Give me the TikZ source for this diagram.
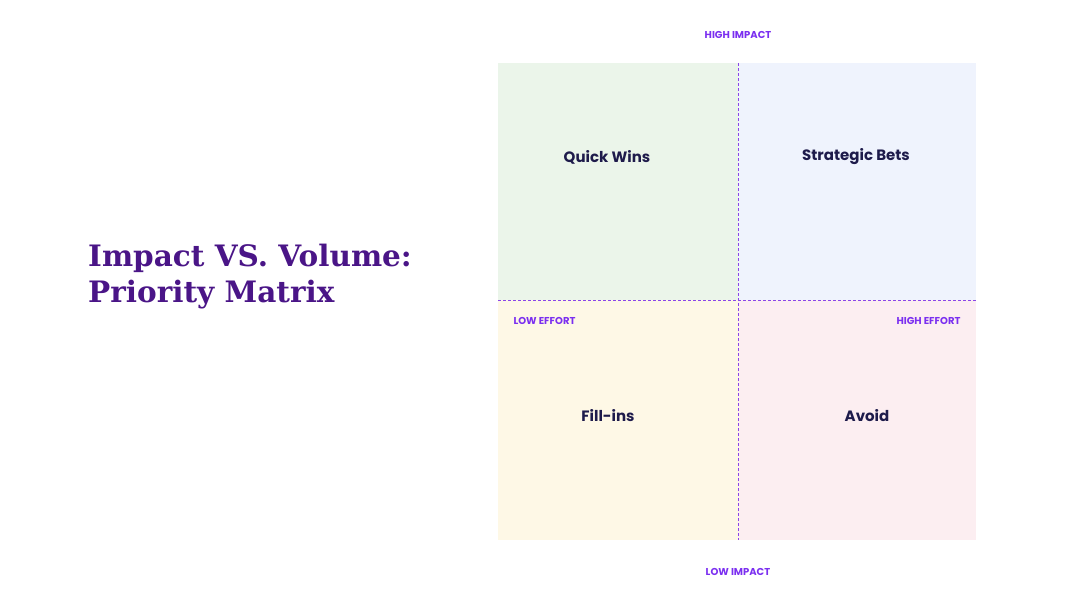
\documentclass[tikz,border=0pt]{standalone}
\usepackage{fontspec}
\setmainfont{Poppins}
\newfontfamily\titlefont{DejaVu Serif}
\definecolor{qgreen}{HTML}{EBF5EA}
\definecolor{qblue}{HTML}{EFF3FD}
\definecolor{qyellow}{HTML}{FEF8E6}
\definecolor{qpink}{HTML}{FCEEF1}
\definecolor{axis}{HTML}{8B45E8}
\definecolor{lab}{HTML}{7B2FF0}
\definecolor{ink}{HTML}{1E1B4B}
\definecolor{ttl}{HTML}{4A1587}
\begin{document}
\begin{tikzpicture}[x=1pt,y=-1pt,
  quad/.style={font=\fontsize{15}{18}\selectfont\bfseries, text=ink},
  lbl/.style={font=\fontsize{10}{12}\selectfont\bfseries, text=lab},
  ax/.style={axis, line width=0.8pt, dash pattern=on 3pt off 2pt}]
\useasboundingbox (0,0) rectangle (1080,608);
\fill[qgreen] (498,63) rectangle (738,300);
\fill[qblue] (738,63) rectangle (976,300);
\fill[qyellow] (498,300) rectangle (738,540);
\fill[qpink] (738,300) rectangle (976,540);
\coordinate (t) at (738,63); \coordinate (b) at (738,540);
\coordinate (l) at (498,300); \coordinate (r) at (976,300);
\draw[ax] (t) -- (b);
\draw[ax] (l) -- (r);
\node[quad] (qw) at (607,157) {Quick Wins};
\node[quad] (sb) at (856,157) {Strategic Bets};
\node[quad] (fi) at (608,416) {Fill-ins};
\node[quad] (av) at (867,416) {Avoid};
\node[lbl] (hi) at (738,35) {HIGH IMPACT};
\node[lbl] (li) at (738,572) {LOW IMPACT};
\node[lbl, anchor=west] (le) at (510,321) {LOW EFFORT};
\node[lbl, anchor=east] (he) at (964,321) {HIGH EFFORT};
\node[anchor=north west, align=left, text=ttl, inner sep=0pt,
  font=\titlefont\bfseries\fontsize{29.5}{36}\selectfont] (title) at (88,244)
  {Impact VS. Volume:\\Priority Matrix};
\end{tikzpicture}
\end{document}
